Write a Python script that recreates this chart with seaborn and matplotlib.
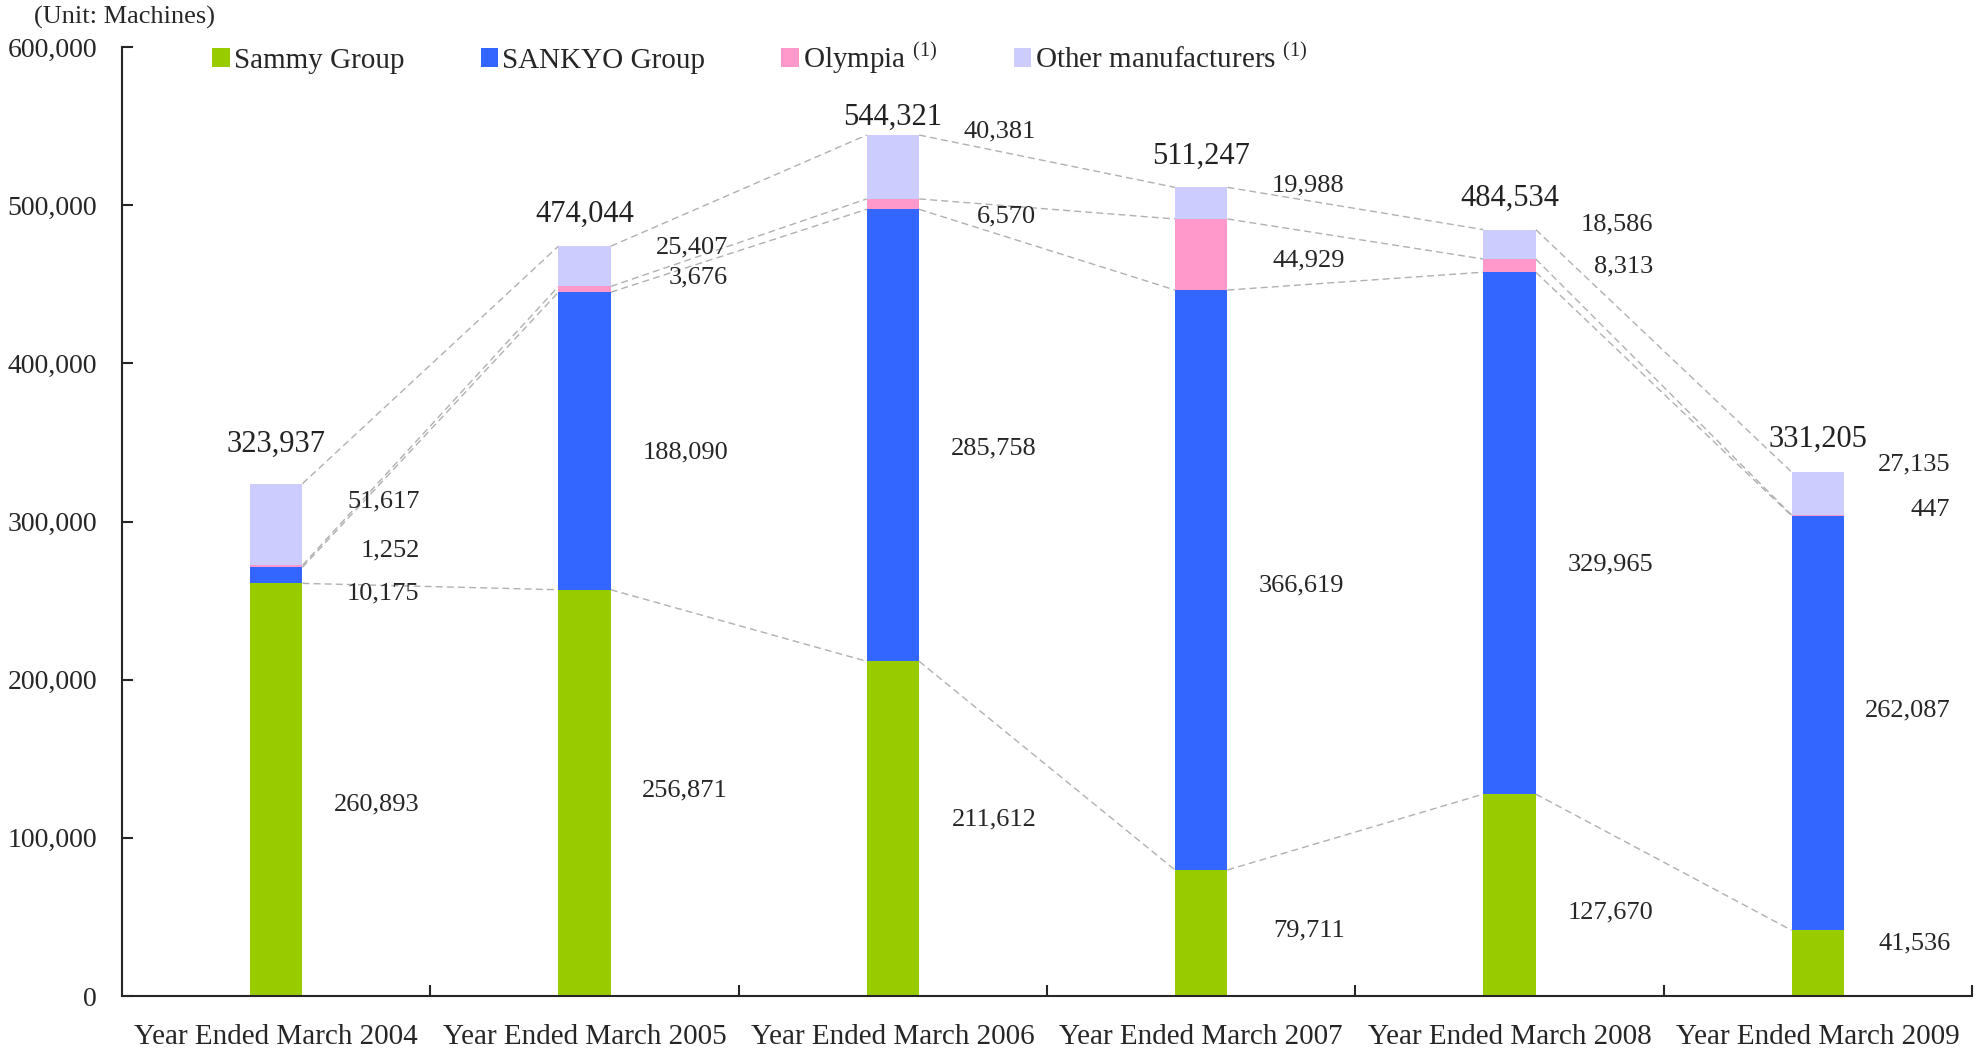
import numpy as np
import pandas as pd
import matplotlib
matplotlib.use("Agg")
import matplotlib.pyplot as plt
import matplotlib.ticker as mticker
from matplotlib.patches import Patch
import seaborn as sns

# data (unit: machines)
years = ["Year Ended March 2004", "Year Ended March 2005", "Year Ended March 2006",
         "Year Ended March 2007", "Year Ended March 2008", "Year Ended March 2009"]
sammy = [260893, 256871, 211612, 79711, 127670, 41536]
sankyo = [10175, 188090, 285758, 366619, 329965, 262087]
olympia = [1252, 3676, 6570, 44929, 8313, 447]
others = [51617, 25407, 40381, 19988, 18586, 27135]
totals = [323937, 474044, 544321, 511247, 484534, 331205]

series_names = ["Sammy Group", "SANKYO Group", "Olympia", "Other manufacturers"]
colors = ["#99CC00", "#3366FF", "#FF99CC", "#CCCCFF"]

# where the value labels sit (y, data units)
sammy_label_y = [121300, 130000, 111700, 41500, 52700, 33500]
sankyo_label_y = [254500, 343900, 346300, 259300, 272900, 180300]
olympia_label_y = [281700, 454000, 493100, 465200, 461200, 307200]
others_label_y = [312800, 473200, 546600, 512200, 487500, 335900]
total_label_y = [348700, 493900, 555300, 530600, 504300, 351900]

sns.set_style("ticks")
plt.rcParams["font.family"] = ["Liberation Serif", "DejaVu Serif"]
plt.rcParams["mathtext.fontset"] = "stix"

df = pd.DataFrame({"year": years, "sammy": sammy, "sankyo": sankyo,
                   "olympia": olympia, "others": others})
cols = ["sammy", "sankyo", "olympia", "others"]
cum = df[cols].cumsum(axis=1)

fig = plt.figure(figsize=(19.79, 10.51), dpi=100)
ax = fig.add_axes([0.0617, 0.0523, 0.9348, 0.903])

bar_w = 0.17
# stacked: draw tallest cumulative first
for col, c in reversed(list(zip(cols, colors))):
    sns.barplot(x=df["year"], y=cum[col], color=c, width=bar_w,
                saturation=1, linewidth=0, edgecolor="none", ax=ax, zorder=2)

# dashed connectors between segment tops
x = np.arange(len(years))
for col in cols:
    vals = cum[col].values
    for i in range(len(years) - 1):
        ax.plot([x[i] + bar_w / 2, x[i + 1] - bar_w / 2], [vals[i], vals[i + 1]],
                ls=(0, (5, 3)), color="#B0B0B0", lw=1.0, zorder=1)

# value labels
fs = 19
for vals, ys in zip([sammy, sankyo, olympia, others],
                    [sammy_label_y, sankyo_label_y, olympia_label_y, others_label_y]):
    for i, (v, yy) in enumerate(zip(vals, ys)):
        dx = 0.465 if i < len(years) - 1 else 0.43
        ax.text(x[i] + dx, yy, f"{v:,}", ha="right", va="center", fontsize=fs)
for i, (t, yy) in enumerate(zip(totals, total_label_y)):
    ax.text(x[i], yy, f"{t:,}", ha="center", va="center", fontsize=22, color="#222222")

ax.set_xlim(-0.5, len(years) - 0.5)
ax.set_ylim(0, 600000)
ax.yaxis.set_major_locator(mticker.MultipleLocator(100000))
ax.yaxis.set_major_formatter(mticker.FuncFormatter(lambda v, p: f"{int(v):,}"))
ax.set_xlabel("")
ax.set_ylabel("")
ax.set_xticks(x)
ax.set_xticklabels(years)
ax.set_xticks(x[:] + 0.5, minor=True)
ax.tick_params(axis="x", which="major", length=0, pad=20, labelsize=21)
ax.tick_params(axis="x", which="minor", direction="in", length=8, width=1.5)
ax.tick_params(axis="y", direction="in", length=8, width=1.5, pad=18, labelsize=20)
for s in ["top", "right"]:
    ax.spines[s].set_visible(False)
for s in ["left", "bottom"]:
    ax.spines[s].set_linewidth(1.5)
ax.grid(False)

handles = [Patch(facecolor=c, edgecolor="none") for c in colors]
labels = ["Sammy Group", "SANKYO Group", r"Olympia $^{\mathregular{(1)}}$",
          r"Other manufacturers $^{\mathregular{(1)}}$"]
ax.legend(handles, labels, loc="center left", bbox_to_anchor=(0.0425, 0.988),
          ncol=4, frameon=False, fontsize=21, handlelength=0.6, handleheight=0.6,
          handletextpad=0.15, columnspacing=2.6, borderaxespad=0)

fig.text(0.017, 0.983, "(Unit: Machines)", fontsize=19, ha="left", va="center")

fig.savefig("out.png", dpi=100)
